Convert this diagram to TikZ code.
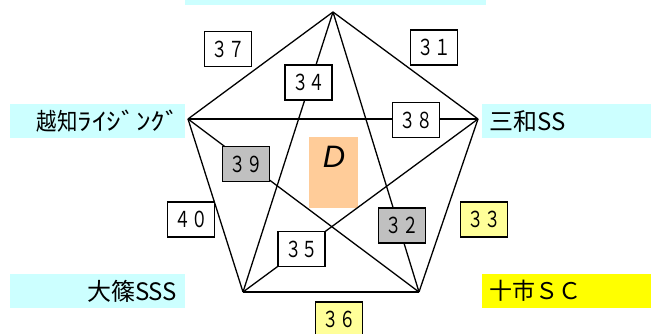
\documentclass[tikz,border=0pt]{standalone}
\usepackage{fontspec}
\setmainfont{Liberation Sans}
\newfontfamily\cjk{Noto Sans CJK JP}
\usepackage{graphicx}
\definecolor{lcyan}{HTML}{CCFFFF}
\definecolor{lyel}{HTML}{FFFF99}
\definecolor{byel}{HTML}{FFFF00}
\definecolor{lgray}{HTML}{C0C0C0}
\definecolor{peach}{HTML}{FFCC99}
\newcommand\numtxt[1]{\scalebox{0.75}[1]{#1}}
\begin{document}
\begin{tikzpicture}[x=1pt,y=-1pt,
  edge/.style={line width=1.3pt},
  numbox/.style={draw, line width=1.4pt, fill=white, minimum width=47pt, minimum height=35pt, inner sep=0pt, font=\cjk\fontsize{22}{22}\selectfont},
  grey/.style={fill=lgray},
  yel/.style={fill=lyel},
  teamlab/.style={minimum height=34pt, inner ysep=0pt, font=\cjk\fontsize{24}{24}\selectfont},
]
\useasboundingbox (0,0) rectangle (651,334);
\clip (0,0) rectangle (651,334);
% team labels
\fill[lcyan] (185,0) rectangle (486,5);
\node[teamlab, fill=lcyan, anchor=north west, text width=165pt, inner xsep=5pt, align=right] (labL) at (10,104) {\scalebox{0.85}[1]{越知}\scalebox{1.22}[1]{ﾗｲｼﾞﾝｸﾞ}};
\node[teamlab, fill=lcyan, anchor=north west, text width=162pt, inner xsep=7pt, align=left] (labR) at (482,104) {三和SS};
\node[teamlab, fill=lcyan, anchor=north west, text width=159pt, inner xsep=8pt, align=right] (labBL) at (10,274) {大篠SSS};
\node[teamlab, fill=byel, anchor=north west, text width=162pt, inner xsep=7pt, align=left, font=\cjk\fontsize{23}{23}\selectfont] (labBR) at (482,274) {十市ＳＣ};
% center D
\node[fill=peach, minimum width=49pt, minimum height=71pt, inner sep=0pt, anchor=north west] (dbox) at (309,137) {};
\node[font=\itshape\fontsize{31}{31}\selectfont, inner sep=0pt] (dtxt) at (334,157) {D};
% vertices
\coordinate (T) at (333,12);
\coordinate (L) at (188,119);
\coordinate (R) at (478,119);
\coordinate (BL) at (243,292);
\coordinate (BR) at (419,292);
% edges
\draw[edge] (T) -- (L);
\draw[edge] (T) -- (R);
\draw[edge] (L) -- (BL);
\draw[edge] (R) -- (BR);
\draw[edge] (BL) -- (BR);
\draw[edge] (T) -- (BL);
\draw[edge] (T) -- (BR);
\draw[edge] (L) -- (R);
\draw[edge] (L) -- (BR);
\draw[edge] (R) -- (BL);
% score boxes
\node[numbox] (n37) at (228,49) {\numtxt{３７}};
\node[numbox] (n31) at (434,47.5) {\numtxt{３１}};
\node[numbox] (n34) at (308.5,82.5) {\numtxt{３４}};
\node[numbox] (n38) at (416,120) {\numtxt{３８}};
\node[numbox, grey] (n39) at (246,164) {\numtxt{３９}};
\node[numbox] (n40) at (191,219.5) {\numtxt{４０}};
\node[numbox, grey] (n32) at (402,225.5) {\numtxt{３２}};
\node[numbox, yel] (n33) at (484,219.5) {\numtxt{３３}};
\node[numbox] (n35) at (301.5,249) {\numtxt{３５}};
\node[numbox, yel] (n36) at (339,319.5) {\numtxt{３６}};
\end{tikzpicture}
\end{document}
